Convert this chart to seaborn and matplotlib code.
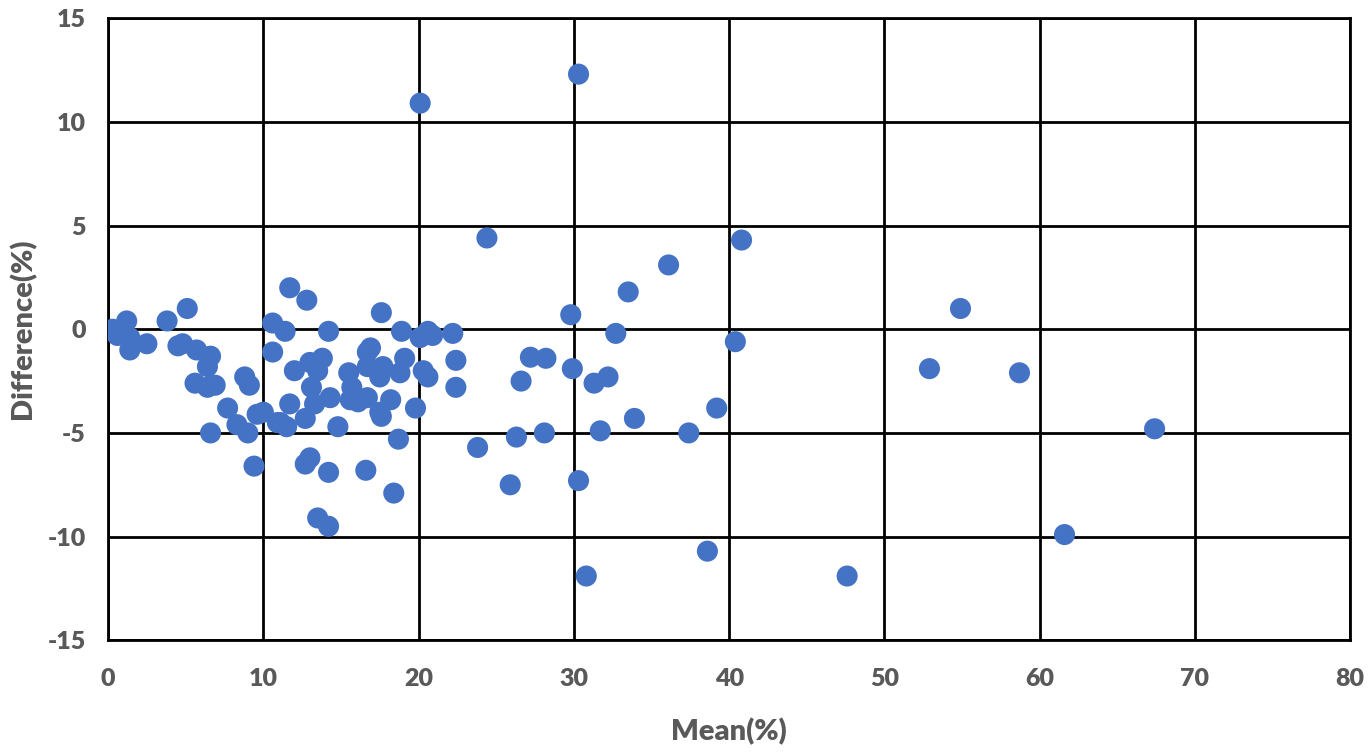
import matplotlib
matplotlib.use("Agg")
import matplotlib.pyplot as plt
import seaborn as sns
import pandas as pd

mean_pct = [0.3, 0.6, 1.0, 1.2, 1.4, 1.4, 2.5, 3.8, 5.1, 4.5, 4.8, 5.7, 6.6, 6.4,
            5.6, 6.4, 6.9, 8.8, 9.1, 7.7, 8.3, 9.0, 9.6, 10.0, 6.6, 9.4,
            11.7, 10.6, 11.4, 10.6, 12.0, 11.7, 10.9, 11.5,
            12.8, 17.6, 14.2, 18.9, 20.1, 20.6, 20.9, 22.2, 13.8, 16.9, 16.7,
            13.0, 13.5, 15.5, 16.7, 17.7, 17.5, 19.1, 18.8, 20.3, 20.6, 22.4, 22.4,
            13.1, 14.3, 13.3, 15.7, 15.6, 16.1, 16.7, 18.2, 17.5, 17.6, 19.8,
            12.7, 11.1, 14.8, 18.7, 13.0, 12.7, 14.2, 16.6, 18.4, 13.5, 14.2,
            20.1, 30.3, 24.4, 36.1, 33.5, 40.8, 29.8, 32.7, 40.4, 27.2, 28.2,
            29.9, 26.6, 31.3, 32.2, 33.9, 39.2, 37.4, 31.7, 28.1, 26.3, 23.8,
            25.9, 30.3, 30.8, 38.6, 47.6, 52.9, 54.9, 58.7, 61.6, 67.4]
diff_pct = [0.0, -0.3, -0.2, 0.4, -0.4, -1.0, -0.7, 0.4, 1.0, -0.8, -0.7, -1.0, -1.3, -1.8,
            -2.6, -2.8, -2.7, -2.3, -2.7, -3.8, -4.6, -5.0, -4.1, -4.0, -5.0, -6.6,
            2.0, 0.3, -0.1, -1.1, -2.0, -3.6, -4.5, -4.7,
            1.4, 0.8, -0.1, -0.1, -0.4, -0.1, -0.3, -0.2, -1.4, -0.9, -1.1,
            -1.6, -2.0, -2.1, -1.8, -1.8, -2.3, -1.4, -2.1, -2.0, -2.3, -1.5, -2.8,
            -2.8, -3.3, -3.6, -2.8, -3.4, -3.5, -3.3, -3.4, -4.0, -4.2, -3.8,
            -4.3, -4.5, -4.7, -5.3, -6.2, -6.5, -6.9, -6.8, -7.9, -9.1, -9.5,
            10.9, 12.3, 4.4, 3.1, 1.8, 4.3, 0.7, -0.2, -0.6, -1.35, -1.4,
            -1.9, -2.5, -2.6, -2.3, -4.3, -3.8, -5.0, -4.9, -5.0, -5.2, -5.7,
            -7.5, -7.3, -11.9, -10.7, -11.9, -1.9, 1.0, -2.1, -9.9, -4.8]

x_ticks = [0, 10, 20, 30, 40, 50, 60, 70, 80]
y_ticks = [-15, -10, -5, 0, 5, 10, 15]

df = pd.DataFrame({"Mean(%)": mean_pct, "Difference(%)": diff_pct})

sns.set_theme(style="white")
plt.rcParams['font.family'] = ['Lato', 'DejaVu Sans']
plt.rcParams['axes.unicode_minus'] = False

fig = plt.figure(figsize=(13.68, 7.56), dpi=100)
ax = fig.add_axes([0.079, 0.153, 0.908, 0.823])

sns.scatterplot(data=df, x="Mean(%)", y="Difference(%)", ax=ax,
                color="#4472C4", s=230, edgecolor="none", zorder=3)

ax.set_xlim(0, 80)
ax.set_ylim(-15, 15)
ax.set_xticks(x_ticks)
ax.set_yticks(y_ticks)
ax.grid(True, color="black", linewidth=2.0, zorder=0)
ax.set_axisbelow(True)
for sp in ax.spines.values():
    sp.set_color("black")
    sp.set_linewidth(2.0)

gray = "#595959"
ax.tick_params(axis="x", length=0, pad=20, labelsize=18, labelcolor=gray)
ax.tick_params(axis="y", length=0, pad=16, labelsize=18, labelcolor=gray)
for lbl in ax.get_xticklabels() + ax.get_yticklabels():
    lbl.set_fontweight("heavy")
ax.set_xlabel("Mean(%)", fontsize=21, fontweight="heavy", color=gray, labelpad=20)
ax.set_ylabel("Difference(%)", fontsize=21, fontweight="heavy", color=gray, labelpad=8)

fig.savefig("out.png", dpi=100, facecolor="white")
